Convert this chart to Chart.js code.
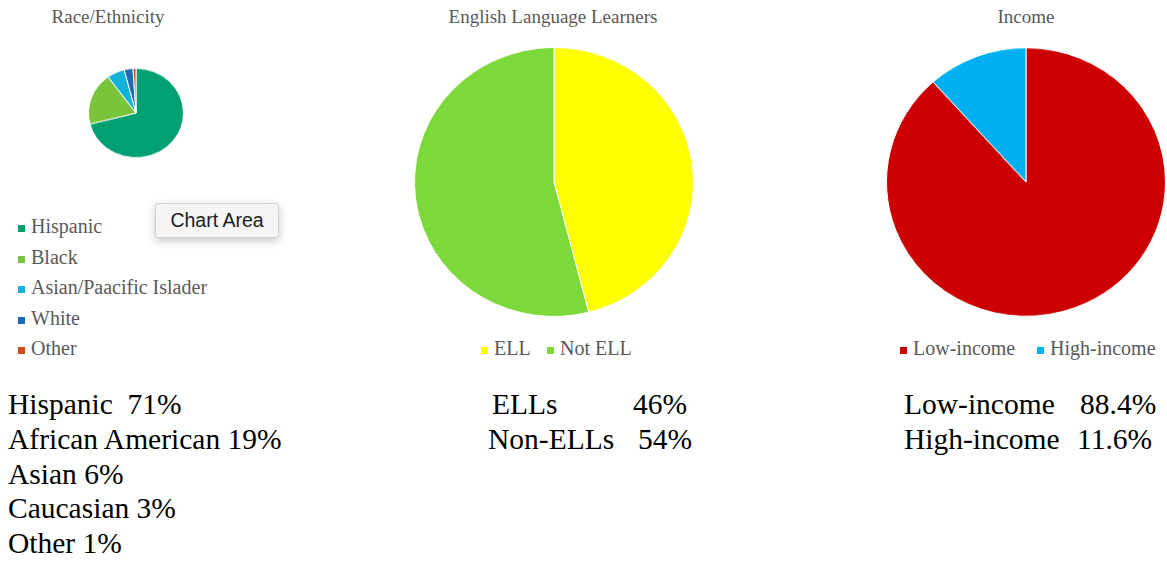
<!DOCTYPE html>
<html>
<head>
<meta charset="utf-8">
<script src="https://cdn.jsdelivr.net/npm/chart.js@4"></script>
<style>
  html, body { margin: 0; padding: 0; background: #fff; }
  body { width: 1167px; height: 561px; position: relative; overflow: hidden; }
  .abs { position: absolute; white-space: pre; font-family: "Liberation Serif", Tinos, "Times New Roman", Times, "DejaVu Serif", serif; }
  .title { font-size: 19px; line-height: 19px; color: #595959; transform: translateX(-50%); }
  .legend { font-size: 20px; line-height: 20px; color: #595959; }
  .swatch { position: absolute; width: 7px; height: 7px; }
  .summary { font-size: 29.5px; line-height: 29.5px; color: #000; }
  canvas { position: absolute; }
  #chartAreaTip {
    position: absolute; left: 155px; top: 203px; width: 122px; height: 33px;
    background: #f5f5f5; border: 1px solid #d2d2d2; border-radius: 3px;
    box-shadow: 0 3px 8px rgba(0,0,0,0.22);
    font-family: "Liberation Sans", Arial, sans-serif; font-size: 19.5px; color: #1c1c1c;
    line-height: 33px; text-align: center;
  }
</style>
</head>
<body>
<canvas id="racePie" width="96" height="96"></canvas>
<canvas id="ellPie" width="280" height="280"></canvas>
<canvas id="incomePie" width="280" height="280"></canvas>
<div id="chartAreaTip">Chart Area</div>

<script>
// ---- data ----
const raceLabels = ["Hispanic", "Black", "Asian/Paacific Islader", "White", "Other"];
const raceValues = [71, 19, 6, 3, 1];
const raceNames = ["Hispanic ", "African American", "Asian", "Caucasian", "Other"];

const ellLabels = ["ELL", "Not ELL"];
const ellValues = [46, 54];
const ellNames = ["ELLs", "Non-ELLs"];

const incomeLabels = ["Low-income", "High-income"];
const incomeValues = [88.4, 11.6];
const incomeNames = ["Low-income", "High-income"];

// ---- colours ----
const raceColors = ["#00a073", "#79c43a", "#13b2d9", "#1b6db2", "#d34b14"];
const ellColors = ["#ffff00", "#7dd93b"];
const incomeColors = ["#cc0000", "#00b0f0"];

// pie canvases: centre x/y, horizontal radius, vertical squash
function placePie(id, cx, cy, scaleY) {
  const c = document.getElementById(id);
  c.style.left = (cx - c.width / 2) + "px";
  c.style.top = (cy - c.height / 2) + "px";
  c.style.transform = "scaleY(" + scaleY + ")";
}

function makePie(id, labels, values, colors) {
  return new Chart(document.getElementById(id), {
    type: "pie",
    data: {
      labels: labels,
      datasets: [{
        data: values,
        backgroundColor: colors,
        borderColor: "#ffffff",
        borderWidth: 1
      }]
    },
    options: {
      responsive: false,
      animation: false,
      layout: { padding: 0 },
      plugins: {
        legend: { display: false },
        title: { display: false },
        tooltip: { enabled: false }
      }
    }
  });
}

placePie("racePie", 136, 113, 0.94);
placePie("ellPie", 553.5, 181.5, 0.964);
placePie("incomePie", 1026, 181.5, 0.962);

makePie("racePie", raceLabels, raceValues, raceColors);
makePie("ellPie", ellLabels, ellValues, ellColors);
makePie("incomePie", incomeLabels, incomeValues, incomeColors);

// ---- text helpers ----
function addText(cls, text, x, y) {
  const d = document.createElement("div");
  d.className = "abs " + cls;
  d.textContent = text;
  d.style.left = x + "px";
  d.style.top = y + "px";
  document.body.appendChild(d);
  return d;
}

function addLegendItem(label, color, x, y) {
  const s = document.createElement("div");
  s.className = "swatch";
  s.style.background = color;
  s.style.left = x + "px";
  s.style.top = (y + 9) + "px";
  document.body.appendChild(s);
  addText("legend", label, x + 13, y);
}

// titles
addText("title", "Race/Ethnicity", 108, 7);
addText("title", "English Language Learners", 553, 7);
addText("title", "Income", 1026, 7);

// left legend, stacked
raceLabels.forEach((l, i) => addLegendItem(l, raceColors[i], 18, 216 + i * 30.6));

// bottom legends
addLegendItem(ellLabels[0], ellColors[0], 481, 338);
addLegendItem(ellLabels[1], ellColors[1], 547, 338);
addLegendItem(incomeLabels[0], incomeColors[0], 900, 338);
addLegendItem(incomeLabels[1], incomeColors[1], 1037, 338);

// summary lines under the pies
raceNames.forEach((n, i) => addText("summary", n + " " + raceValues[i] + "%", 8, 390 + i * 34.75));

addText("summary", ellNames[0], 492, 390);
addText("summary", ellValues[0] + "%", 633, 390);
addText("summary", ellNames[1], 488, 424.75);
addText("summary", ellValues[1] + "%", 638, 424.75);

addText("summary", incomeNames[0], 904, 390);
addText("summary", incomeValues[0] + "%", 1080, 390);
addText("summary", incomeNames[1], 904, 424.75);
addText("summary", incomeValues[1] + "%", 1077, 424.75);
</script>
</body>
</html>
